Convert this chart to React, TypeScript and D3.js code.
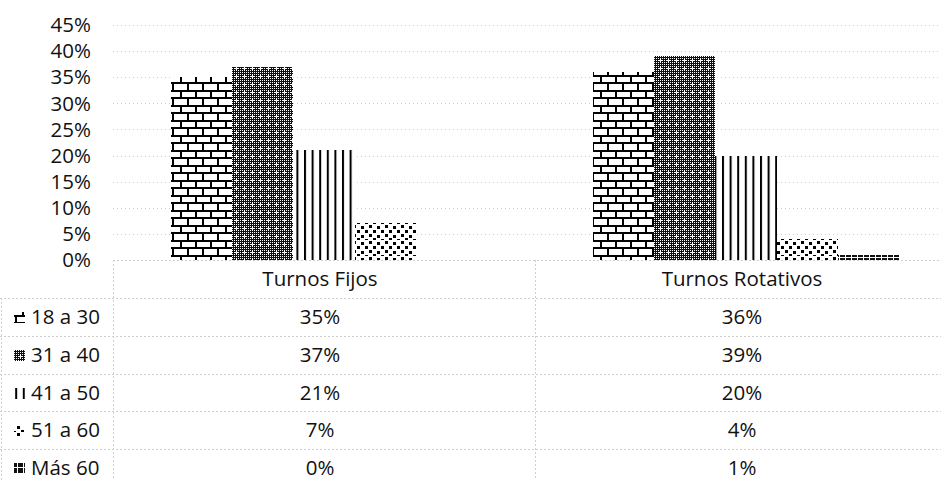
import React from "react";
import * as d3 from "d3";

// Shift groups and age ranges
const categories = ["Turnos Fijos", "Turnos Rotativos"];
const ageGroups = ["18 a 30", "31 a 40", "41 a 50", "51 a 60", "Más 60"];

// Share of workers per age range, one array per shift type
const turnosFijos = [0.35, 0.37, 0.21, 0.07, 0.0];
const turnosRotativos = [0.36, 0.39, 0.2, 0.04, 0.01];
const valuesByCategory = [turnosFijos, turnosRotativos];

// Value axis ticks
const yTicks = [0, 0.05, 0.1, 0.15, 0.2, 0.25, 0.3, 0.35, 0.4, 0.45];

const W = 941;
const H = 480;
const FONT = "'Open Sans', 'Noto Sans', sans-serif";
const FS = 20.5;
const INK = "#111";
const GRID = "#cfcfcf";

const plotLeft = 113;
const plotRight = 957;
const baseY = 260;
const topY = 25;
const headerH = 38;
const rowH = 37.8;

const patternIds = ["pBrick", "pChecker", "pVert", "pConfetti", "pBlock"];

// Positions of the confetti squares inside one tile
const confettiDots: [number, number][] = [
  [1, 1], [9, 2], [5, 6], [13, 6], [1, 10], [9, 11], [5, 14], [13, 15],
];

function Patterns() {
  const checkerDots: React.ReactNode[] = [];
  for (let x = 0; x < 8; x += 2) {
    for (let y = 0; y < 8; y += 2) {
      checkerDots.push(<rect key={`${x}-${y}`} x={x} y={y} width={1} height={1} fill="#fff" />);
    }
  }
  return (
    <defs>
      <pattern id="pBrick" patternUnits="userSpaceOnUse" width={15} height={15}>
        <rect width={15} height={15} fill="#fff" />
        <rect x={0} y={0} width={15} height={2} fill="#000" />
        <rect x={0} y={7} width={15} height={2} fill="#000" />
        <rect x={0} y={0} width={2} height={7} fill="#000" />
        <rect x={7} y={7} width={2} height={8} fill="#000" />
      </pattern>
      <pattern id="pChecker" patternUnits="userSpaceOnUse" width={8} height={8}>
        <rect width={8} height={8} fill="#111" />
        {checkerDots}
        <rect x={2} y={4} width={5} height={1} fill="#fff" />
        <rect x={4} y={2} width={1} height={5} fill="#fff" />
      </pattern>
      <pattern id="pVert" patternUnits="userSpaceOnUse" width={7.6} height={8}>
        <rect width={7.6} height={8} fill="#fff" />
        <rect x={0} y={0} width={2} height={8} fill="#000" />
      </pattern>
      <pattern id="pConfetti" patternUnits="userSpaceOnUse" width={16} height={16}>
        <rect width={16} height={16} fill="#fff" />
        {confettiDots.map(([x, y], i) => (
          <rect key={i} x={x} y={y} width={3} height={3} fill="#000" />
        ))}
      </pattern>
      <pattern id="pBlock" patternUnits="userSpaceOnUse" width={6} height={6}>
        <rect width={6} height={6} fill="#fff" />
        <rect x={0} y={0} width={5} height={5} fill="#111" />
      </pattern>
    </defs>
  );
}

export default function App() {
  const y = d3.scaleLinear().domain([0, 0.45]).range([baseY, topY]);
  const xOuter = d3.scaleBand<string>().domain(categories).range([plotLeft, plotRight]);
  const xInner = d3
    .scaleBand<string>()
    .domain(ageGroups)
    .range([0, xOuter.bandwidth()])
    .paddingInner(0)
    .paddingOuter(0.95);
  const pct = d3.format(".0%");

  const rowTop = (i: number) => baseY + headerH + rowH * i;
  const tableBottom = rowTop(ageGroups.length);

  return (
    <div style={{ position: "absolute", left: 0, top: 0 }}>
      <svg width={W} height={H} style={{ display: "block", background: "#fff" }} fontFamily={FONT}>
        <Patterns />

        {/* gridlines */}
        <g stroke={GRID} strokeWidth={1} strokeDasharray="1 3">
          {yTicks.slice(1).map((t) => (
            <line key={t} x1={plotLeft} x2={W} y1={Math.round(y(t)) + 0.5} y2={Math.round(y(t)) + 0.5} />
          ))}
        </g>

        {/* y tick labels */}
        <g fontSize={FS} fill={INK} textAnchor="end">
          {yTicks.map((t) => (
            <text key={t} x={91} y={y(t)} dy="0.35em">
              {pct(t)}
            </text>
          ))}
        </g>

        {/* bars */}
        <g shapeRendering="crispEdges">
          {categories.map((cat, ci) =>
            ageGroups.map((g, si) => {
              const v = valuesByCategory[ci][si];
              const x0 = (xOuter(cat) ?? 0) + (xInner(g) ?? 0);
              const h = y(0) - y(v);
              if (h <= 0) return null;
              return (
                <rect
                  key={`${cat}-${g}`}
                  x={x0}
                  y={y(v)}
                  width={xInner.bandwidth()}
                  height={h}
                  fill={`url(#${patternIds[si]})`}
                />
              );
            })
          )}
        </g>

        {/* data table grid */}
        <g stroke={GRID} strokeWidth={1} strokeDasharray="2 2">
          <line x1={plotLeft} x2={W} y1={baseY + 0.5} y2={baseY + 0.5} />
          {ageGroups.map((g, i) => (
            <line key={g} x1={0} x2={W} y1={Math.round(rowTop(i)) + 0.5} y2={Math.round(rowTop(i)) + 0.5} />
          ))}
          <line x1={1.5} x2={1.5} y1={rowTop(0)} y2={tableBottom} />
          <line x1={plotLeft + 0.5} x2={plotLeft + 0.5} y1={baseY} y2={tableBottom} />
          {categories.slice(1).map((c) => (
            <line key={c} x1={Math.round(xOuter(c) ?? 0) + 0.5} x2={Math.round(xOuter(c) ?? 0) + 0.5} y1={baseY} y2={tableBottom} />
          ))}
        </g>

        {/* category headers */}
        <g fontSize={FS} fill={INK} textAnchor="middle">
          {categories.map((c) => (
            <text key={c} x={(xOuter(c) ?? 0) + xOuter.bandwidth() / 2 - 4} y={baseY + headerH / 2 + 7}>
              {c}
            </text>
          ))}
        </g>

        {/* table rows: legend key, label and values */}
        <g fontSize={FS} fill={INK}>
          {ageGroups.map((g, si) => {
            const cy = rowTop(si) + rowH / 2;
            return (
              <g key={g}>
                <rect x={14} y={Math.round(cy - 5)} width={11} height={11} fill={`url(#${patternIds[si]})`} shapeRendering="crispEdges" />
                <text x={31} y={cy + 7}>{g}</text>
                {categories.map((c, ci) => (
                  <text
                    key={c}
                    x={(xOuter(c) ?? 0) + xOuter.bandwidth() / 2 - 4}
                    y={cy + 7}
                    textAnchor="middle"
                  >
                    {pct(valuesByCategory[ci][si])}
                  </text>
                ))}
              </g>
            );
          })}
        </g>
      </svg>
    </div>
  );
}
